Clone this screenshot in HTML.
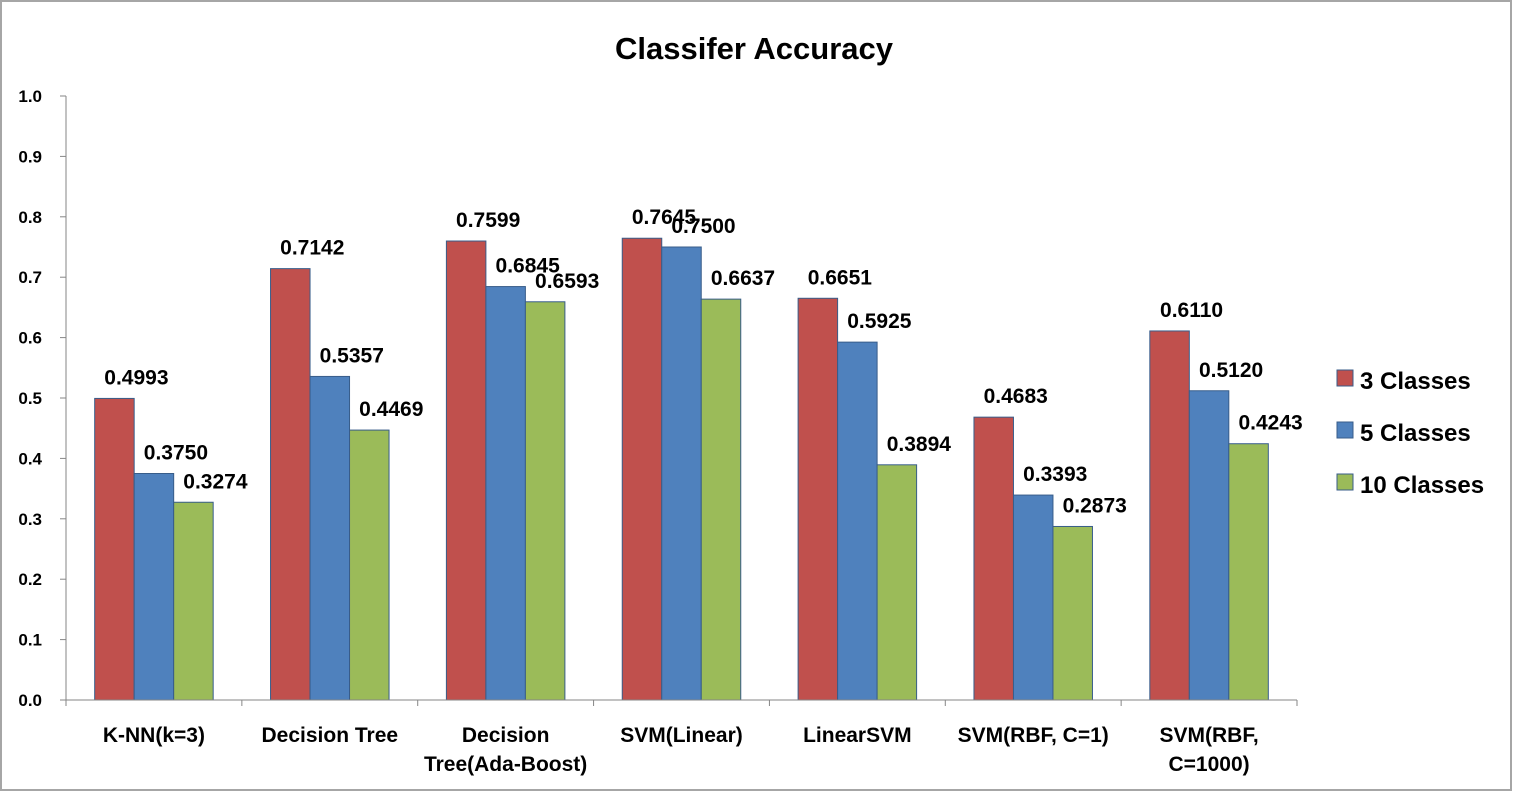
<!DOCTYPE html>
<html><head><meta charset="utf-8"><style>
body{margin:0;background:#fff;}
svg{display:block;font-family:"Liberation Sans",Arial,sans-serif;}
</style></head><body>
<svg id="chart" width="1513" height="792">
<rect x="1" y="1" width="1510" height="789" fill="#fff" stroke="#a6a6a6" stroke-width="2"/>
<text x="754" y="59" text-anchor="middle" font-size="31" font-weight="bold">Classifer Accuracy</text>
<g id="plot"></g>
<g>
<g><rect x="1337" y="370" width="16" height="16" fill="#c0504d" stroke="#385d8a"/><text x="1360" y="389" font-size="24" font-weight="bold">3 Classes</text></g>
<g><rect x="1337" y="422" width="16" height="16" fill="#4f81bd" stroke="#385d8a"/><text x="1360" y="441" font-size="24" font-weight="bold">5 Classes</text></g>
<g><rect x="1337" y="474" width="16" height="16" fill="#9bbb59" stroke="#385d8a"/><text x="1360" y="493" font-size="24" font-weight="bold">10 Classes</text></g>
</g>
</svg>
<script>
const categories=[["K-NN(k=3)"],["Decision Tree"],["Decision","Tree(Ada-Boost)"],["SVM(Linear)"],["LinearSVM"],["SVM(RBF, C=1)"],["SVM(RBF,","C=1000)"]];
const series3=[0.4993,0.7142,0.7599,0.7645,0.6651,0.4683,0.6110];
const series5=[0.3750,0.5357,0.6845,0.7500,0.5925,0.3393,0.5120];
const series10=[0.3274,0.4469,0.6593,0.6637,0.3894,0.2873,0.4243];
const yTicks=[0,0.1,0.2,0.3,0.4,0.5,0.6,0.7,0.8,0.9,1.0];
const NS="http://www.w3.org/2000/svg";
const g=document.getElementById('plot');
const x0=66,x1=1297,y0=700,y1=96;
const gw=(x1-x0)/categories.length,bw=39.5;
const Y=v=>y0-(v)*(y0-y1);
function el(t,a,p){const e=document.createElementNS(NS,t);for(const k in a)e.setAttribute(k,a[k]);(p||g).appendChild(e);return e;}
yTicks.forEach(v=>{
 const l=el('line',{x1:x0-6,x2:x0,y1:Y(v),y2:Y(v),stroke:'#868686'});
 
 
 const t=el('text',{x:42,y:Y(v)+6,'text-anchor':'end','font-size':17,'font-weight':'bold'});
 t.textContent=v.toFixed(1);
 
 
});
const ya=el('line',{x1:x0,x2:x0,y1:y1,y2:y0,stroke:'#868686'});


const sets=[[series3,'#c0504d'],[series5,'#4f81bd'],[series10,'#9bbb59']];
categories.forEach((c,i)=>{
 const gx=x0+i*gw;
 const s=gx+(gw-3*bw)/2;
 sets.forEach(([arr,col],j)=>{
  const v=arr[i];
  const r=el('rect',{x:s+j*bw,y:Y(v),width:bw,height:y0-Y(v),fill:col,stroke:'#385d8a','stroke-width':1});
  
  
  const t=el('text',{x:s+j*bw+bw/2+22,y:Y(v)-14,'text-anchor':'middle','font-size':21,'font-weight':'bold'});
  t.textContent=v.toFixed(4);
  
  
 });
 c.forEach((ln,k)=>{
  const t=el('text',{x:gx+gw/2,y:742+k*29,'text-anchor':'middle','font-size':21,'font-weight':'bold'});
  t.textContent=ln;
  
  
 });
});
for(let i=0;i<=categories.length;i++){
 const x=x0+i*gw;
 const l=el('line',{x1:x,x2:x,y1:y0,y2:y0+6,stroke:'#868686'});
 
 
}
const xa=el('line',{x1:x0,x2:x1,y1:y0,y2:y0,stroke:'#868686'});


</script>
</body></html>
